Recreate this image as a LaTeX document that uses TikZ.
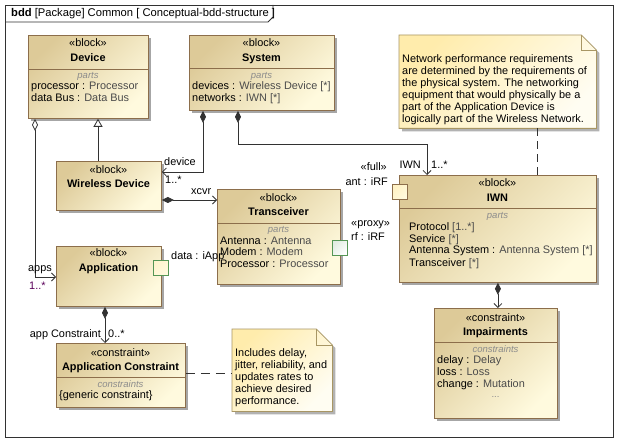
\documentclass[tikz,border=0pt]{standalone}
\usepackage{fontspec}
\setmainfont{Liberation Sans}
\usetikzlibrary{arrows.meta,shadows}
\definecolor{bdark}{RGB}{221,202,152}
\definecolor{blight}{RGB}{255,250,222}
\definecolor{bbord}{RGB}{140,110,75}
\definecolor{ndark}{RGB}{255,236,172}
\definecolor{nlight}{RGB}{255,253,242}
\definecolor{nbord}{RGB}{168,150,100}
\definecolor{lcol}{RGB}{50,50,50}
\definecolor{tcol}{RGB}{75,75,75}
\definecolor{mcol}{RGB}{90,0,90}
\definecolor{pgreen}{RGB}{85,150,85}
\definecolor{pgfill}{RGB}{226,236,226}
\newcommand\dfont{\fontsize{10.9}{12}\selectfont}
\newcommand\hfont{\fontsize{11.2}{12}\selectfont}
\newcommand\sfont{\fontsize{9.5}{11}\selectfont\itshape}
\newcommand\ty[1]{\textcolor{tcol}{#1}}
\begin{document}
\begin{tikzpicture}[x=1pt,y=-1pt,
  blk/.style={draw=bbord, line width=0.8pt, top color=bdark, bottom color=blight, shading angle=45,
    drop shadow={shadow xshift=3pt, shadow yshift=-3pt, fill=black!35, opacity=1},
    anchor=north west, inner sep=0pt},
  notebox/.style={anchor=north west, inner sep=0pt},
  notefill/.style={draw=nbord, line width=0.8pt, top color=ndark, bottom color=nlight, shading angle=45,
    drop shadow={shadow xshift=3pt, shadow yshift=-3pt, fill=black!30, opacity=1}},
  sepline/.style={draw=bbord, line width=0.8pt},
  lt/.style={anchor=west, inner sep=0pt, font=\dfont, text height=8pt, text depth=2pt},
  rt/.style={anchor=east, inner sep=0pt, font=\dfont, text height=8pt, text depth=2pt},
  ct/.style={anchor=center, inner sep=0pt, font=\dfont, text height=8pt, text depth=2pt},
  ttl/.style={ct, font=\dfont\bfseries},
  sect/.style={anchor=center, inner sep=0pt, font=\sfont, text=black!45},
  port/.style={draw, line width=0.8pt, minimum size=15pt, inner sep=0pt},
  conn/.style={draw=lcol, line width=0.8pt},
  comp/.style={conn, {Diamond[length=12pt,width=6pt]}-{Straight Barb[length=4pt,width=8pt,line width=0.8pt]}},
  aggr/.style={conn, {Diamond[open,length=12pt,width=6pt,fill=white]}-{Straight Barb[length=4pt,width=8pt,line width=0.8pt]}},
  gen/.style={conn, -{Triangle[open,length=8pt,width=9pt,fill=white]}},
  dsh/.style={conn, dash pattern=on 9pt off 6pt},
  dsh2/.style={conn, dash pattern=on 8pt off 5pt},
  ]
\useasboundingbox (0,0) rectangle (620,443);
\fill[white] (0,0) rectangle (620,443);

% frame
\node[draw=lcol, line width=0.8pt, anchor=north west, inner sep=0pt, minimum width=608pt, minimum height=432pt] (frame) at (5,5) {};
\draw[lcol, line width=0.8pt] (5,22) -- (268,22) -- (273,17) -- (273,5);
\node[lt, font=\hfont] (hdr) at (11,14) {\textbf{bdd} [Package] Common [ Conceptual-bdd-structure ]};

% Device
\node[blk, minimum width=120pt, minimum height=83pt] (device) at (28,35) {};
\draw[sepline] (28,69) -- (148,69);
\node[ct] (devst) at (88,44) {«block»};
\node[ttl] (devt) at (88,59) {Device};
\node[sect] (devp) at (88,76) {parts};
\node[lt] (dev1) at (31,87) {processor : \ty{Processor}};
\node[lt] (dev2) at (31,99) {data Bus : \ty{Data Bus}};

% System
\node[blk, minimum width=145pt, minimum height=75pt] (system) at (189,35) {};
\draw[sepline] (189,68) -- (334,68);
\node[ct] (sysst) at (261.5,44) {«block»};
\node[ttl] (syst) at (261.5,59) {System};
\node[sect] (sysp) at (261.5,76) {parts};
\node[lt] (sys1) at (192,87) {devices : \ty{Wireless Device [*]}};
\node[lt] (sys2) at (192,99) {networks : \ty{IWN [*]}};

% Wireless Device
\node[blk, minimum width=105pt, minimum height=49pt] (wd) at (56,161) {};
\node[ct] (wdst) at (108.5,171) {«block»};
\node[ttl] (wdt) at (108.5,185) {Wireless Device};

% Transceiver
\node[blk, minimum width=123pt, minimum height=95pt] (trans) at (217,189) {};
\draw[sepline] (217,223) -- (340,223);
\node[ct] (trst) at (278.5,199) {«block»};
\node[ttl] (trt) at (278.5,213) {Transceiver};
\node[sect] (trp) at (278.5,230) {parts};
\node[lt] (tr1) at (220,241) {Antenna : \ty{Antenna}};
\node[lt] (tr2) at (220,253) {Modem : \ty{Modem}};
\node[lt] (tr3) at (220,265) {Processor : \ty{Processor}};
\node[port, draw=pgreen, top color=pgfill, bottom color=white, shading angle=45] (rfport) at (340,248) {};
\node[lt] (proxyst) at (351,224) {«proxy»};
\node[lt] (proxyl) at (351,238) {rf : iRF};

% Application
\node[blk, minimum width=105pt, minimum height=60pt] (app) at (56,246) {};
\node[ct] (appst) at (108.5,254) {«block»};
\node[ttl] (appt) at (108.5,269) {Application};
\node[port, draw=pgreen, top color=ndark!60, bottom color=blight, shading angle=45] (dataport) at (160.5,268) {};
\node[lt] (datal) at (171,257) {data : iApp};

% Application Constraint
\node[blk, minimum width=129pt, minimum height=64pt] (ac) at (56,343) {};
\draw[sepline] (56,377) -- (185,377);
\node[ct] (acst) at (120.5,353) {«constraint»};
\node[ttl] (act) at (120.5,367) {Application Constraint};
\node[sect] (acp) at (120.5,384) {constraints};
\node[lt] (ac1) at (59,395) {\{generic constraint\}};

% Note 1
\node[notebox, minimum width=100pt, minimum height=82pt] (note1) at (232,329) {};
\path[notefill] (note1.north west) -- ([xshift=-16pt]note1.north east) -- ([yshift=-16pt]note1.north east)
  -- (note1.south east) -- (note1.south west) -- cycle;
\draw[nbord, line width=0.6pt] ([xshift=-16pt]note1.north east) -- ([xshift=-16pt,yshift=-16pt]note1.north east) -- ([yshift=-16pt]note1.north east);
\node[anchor=north west, inner sep=0pt, font=\dfont, align=left] (note1t) at (235,348)
  {Includes delay,\\jitter, reliability, and\\updates rates to\\achieve desired\\performance.};

% IWN
\node[blk, minimum width=197pt, minimum height=107pt] (iwn) at (399,175) {};
\draw[sepline] (399,208) -- (596,208);
\node[ct] (iwnst) at (497.5,184) {«block»};
\node[ttl] (iwnt) at (497.5,199) {IWN};
\node[sect] (iwnp) at (497.5,216) {parts};
\node[lt] (iwn1) at (409,228) {Protocol \ty{[1..*]}};
\node[lt] (iwn2) at (409,240) {Service \ty{[*]}};
\node[lt] (iwn3) at (409,251) {Antenna System : \ty{Antenna System [*]}};
\node[lt] (iwn4) at (409,263) {Transceiver \ty{[*]}};
\node[port, draw=bbord, top color=ndark!70, bottom color=blight, shading angle=45] (antport) at (400,192) {};
\node[rt] (fullst) at (387,168) {«full»};
\node[rt] (antl) at (388,183) {ant : iRF};

% Note 2
\node[notebox, minimum width=197pt, minimum height=93pt] (note2) at (399,35) {};
\path[notefill] (note2.north west) -- ([xshift=-15pt]note2.north east) -- ([yshift=-15pt]note2.north east)
  -- (note2.south east) -- (note2.south west) -- cycle;
\draw[nbord, line width=0.6pt] ([xshift=-15pt]note2.north east) -- ([xshift=-15pt,yshift=-15pt]note2.north east) -- ([yshift=-15pt]note2.north east);
\node[anchor=north west, inner sep=0pt, font=\dfont, align=left] (note2t) at (402,54)
  {Network performance requirements\\are determined by the requirements of\\the physical system. The networking\\equipment that would physically be a\\part of the Application Device is\\logically part of the Wireless Network.};

% Impairments
\node[blk, minimum width=123pt, minimum height=110pt] (imp) at (434,308) {};
\draw[sepline] (434,342) -- (557,342);
\node[ct] (impst) at (495.5,318) {«constraint»};
\node[ttl] (impt) at (495.5,332) {Impairments};
\node[sect] (impp) at (495.5,349) {constraints};
\node[lt] (imp1) at (437,360) {delay : \ty{Delay}};
\node[lt] (imp2) at (437,372) {loss : \ty{Loss}};
\node[lt] (imp3) at (437,384) {change : \ty{Mutation}};
\node[sect, font=\sfont\upshape] (imp4) at (495.5,397) {...};

% helper coordinates
\coordinate (gx) at (98,0);
\coordinate (ax) at (35,0);
\coordinate (s1) at (203,0);
\coordinate (s2) at (238,0);
\coordinate (ix) at (427,0);
\coordinate (px) at (105,0);
\coordinate (nx) at (537,0);
\coordinate (r1) at (0,172);
\coordinate (r2) at (0,144);
\coordinate (r3) at (0,200);
\coordinate (r4) at (0,277);
\coordinate (r5) at (0,373);

% connectors
\draw[aggr] (device.south -| ax) |- (app.west |- r4);
\draw[gen] (wd.north -| gx) -- (device.south -| gx);
\draw[comp] (system.south -| s1) |- (wd.east |- r1);
\draw[comp] (system.south -| s2) |- (r2 -| ix) -- (iwn.north -| ix);
\draw[comp] (wd.east |- r3) -- (trans.west |- r3);
\draw[comp] (app.south -| px) -- (ac.north -| px);
\draw[comp] (iwn.south) -- (iwn.south |- imp.north);
\draw[dsh] (ac.east |- r5) -- (note1.west |- r5);
\draw[dsh2] (note2.south -| nx) -- (iwn.north -| nx);

% connector labels
\node[rt] (appsl) at (52,268) {apps};
\node[lt, text=mcol] (appsm) at (29,286) {1..*};
\node[lt] (devl) at (164,163) {device};
\node[lt] (devm) at (165,181) {1..*};
\node[rt] (iwnl) at (421,166) {IWN};
\node[lt] (iwnm) at (431,166) {1..*};
\node[lt] (xcvrl) at (191,192) {xcvr};
\node[rt] (acl) at (101,334) {app Constraint};
\node[lt] (acm) at (108,334) {0..*};
\end{tikzpicture}
\end{document}
